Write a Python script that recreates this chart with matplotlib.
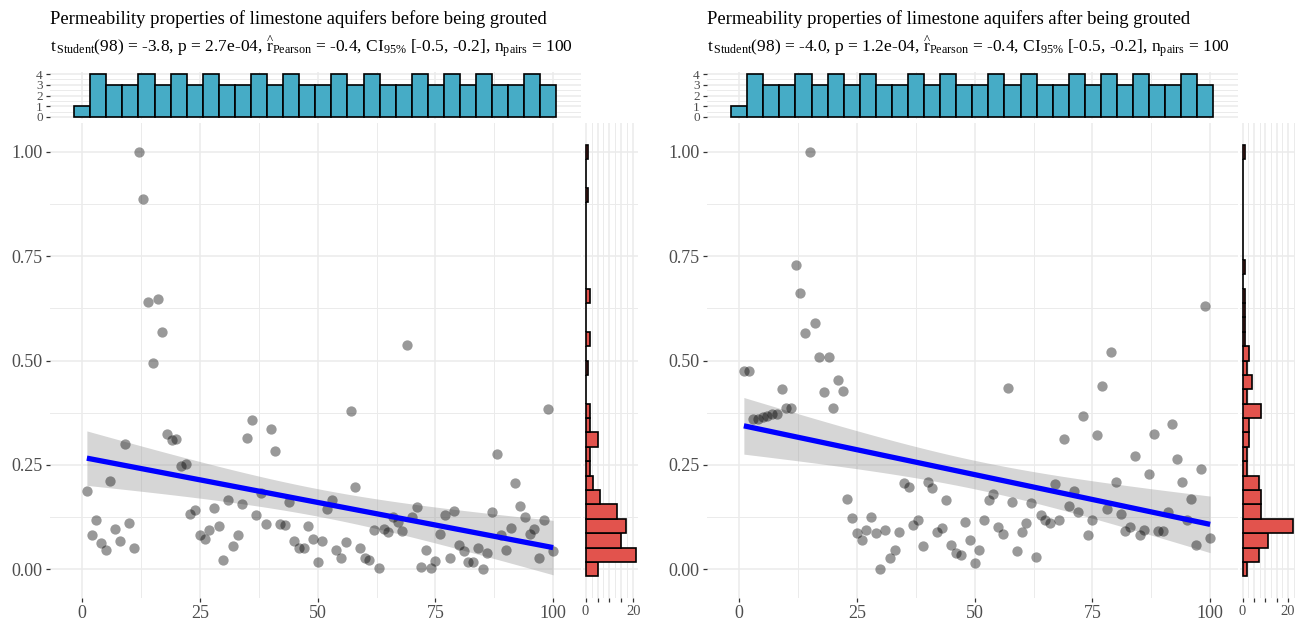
import numpy as np
import matplotlib
matplotlib.use("Agg")
import matplotlib.pyplot as plt
from matplotlib.ticker import FixedLocator, MultipleLocator

plt.rcParams['font.family'] = ['Liberation Serif', 'DejaVu Serif']
plt.rcParams['mathtext.fontset'] = 'custom'
plt.rcParams['mathtext.rm'] = 'Liberation Serif'
plt.rcParams['mathtext.it'] = 'Liberation Serif:italic'
plt.rcParams['mathtext.bf'] = 'Liberation Serif:bold'

# ---------------- data ----------------
obs_id = np.arange(1, 101)

before = [0.188, 0.081, 0.117, 0.063, 0.047, 0.211, 0.097, 0.068, 0.300, 0.111,
          0.051, 1.000, 0.886, 0.640, 0.493, 0.647, 0.568, 0.323, 0.309, 0.312,
          0.248, 0.253, 0.132, 0.141, 0.083, 0.073, 0.095, 0.147, 0.103, 0.022,
          0.165, 0.056, 0.082, 0.157, 0.314, 0.358, 0.131, 0.183, 0.109, 0.337,
          0.283, 0.108, 0.106, 0.161, 0.068, 0.051, 0.050, 0.104, 0.073, 0.017,
          0.067, 0.145, 0.165, 0.047, 0.026, 0.064, 0.380, 0.196, 0.050, 0.028,
          0.023, 0.094, 0.003, 0.097, 0.089, 0.125, 0.113, 0.092, 0.536, 0.124,
          0.149, 0.006, 0.047, 0.003, 0.019, 0.084, 0.131, 0.027, 0.140, 0.057,
          0.044, 0.018, 0.018, 0.050, 0.000, 0.038, 0.138, 0.276, 0.081, 0.047,
          0.099, 0.207, 0.151, 0.126, 0.084, 0.097, 0.026, 0.117, 0.383, 0.043]

after = [0.475, 0.475, 0.361, 0.361, 0.364, 0.368, 0.371, 0.371, 0.432, 0.387,
         0.387, 0.729, 0.662, 0.567, 1.000, 0.590, 0.508, 0.424, 0.508, 0.387,
         0.453, 0.427, 0.169, 0.123, 0.086, 0.070, 0.094, 0.126, 0.086, 0.000,
         0.095, 0.028, 0.047, 0.090, 0.207, 0.196, 0.106, 0.117, 0.055, 0.209,
         0.195, 0.090, 0.098, 0.167, 0.057, 0.039, 0.035, 0.114, 0.070, 0.015,
         0.046, 0.117, 0.166, 0.181, 0.102, 0.084, 0.435, 0.160, 0.043, 0.090,
         0.110, 0.159, 0.030, 0.131, 0.117, 0.111, 0.203, 0.117, 0.313, 0.151,
         0.188, 0.137, 0.367, 0.083, 0.117, 0.322, 0.440, 0.145, 0.520, 0.209,
         0.133, 0.091, 0.102, 0.272, 0.082, 0.095, 0.229, 0.324, 0.092, 0.092,
         0.137, 0.349, 0.265, 0.209, 0.117, 0.169, 0.057, 0.240, 0.631, 0.075]

titles = ["Permeability properties of limestone aquifers before being grouted",
          "Permeability properties of limestone aquifers after being grouted"]
subtitles = [
    r"$\mathrm{t}_{\,\mathrm{Student}}$(98) = -3.8, p = 2.7e-04, "
    r"$\widehat{\mathrm{r}}_{\mathrm{Pearson}}$ = -0.4, CI$_{\mathrm{95\%}}$ [-0.5, -0.2], "
    r"n$_{\mathrm{pairs}}$ = 100",
    r"$\mathrm{t}_{\,\mathrm{Student}}$(98) = -4.0, p = 1.2e-04, "
    r"$\widehat{\mathrm{r}}_{\mathrm{Pearson}}$ = -0.4, CI$_{\mathrm{95\%}}$ [-0.5, -0.2], "
    r"n$_{\mathrm{pairs}}$ = 100",
]
x_ticks = [0, 25, 50, 75, 100]
y_ticks = [0.00, 0.25, 0.50, 0.75, 1.00]
top_ticks = [0, 1, 2, 3, 4]
side_ticks = [0, 5, 10, 15, 20]
side_labels = ["0", "", "", "", "20"]

# ---------------- style ----------------
W, H = 1304, 628
TOP_FILL = "#46ACC6"
SIDE_FILL = "#E2534D"
GRID = "#EBEBEB"
TICKC = "#333333"
LABC = "#4D4D4D"
T975 = 1.984467  # t quantile (0.975, df = 98)

fig = plt.figure(figsize=(W / 100, H / 100), dpi=100)


def px_axes(x0, y0, x1, y1):
    return fig.add_axes([x0 / W, 1 - y1 / H, (x1 - x0) / W, (y1 - y0) / H])


def gg_breaks(v, bins=30):
    lo, hi = float(np.min(v)), float(np.max(v))
    w = (hi - lo) / (bins - 1)
    boundary = w / 2
    shift = np.floor((lo - boundary) / w)
    origin = boundary + shift * w
    return origin + w * np.arange(bins + 1)


def expand(lo, hi, m=0.05):
    d = (hi - lo) * m
    return lo - d, hi + d


def style(ax):
    for s in ax.spines.values():
        s.set_visible(False)
    ax.set_axisbelow(True)
    ax.grid(True, which='major', color=GRID, lw=1.1)
    ax.grid(True, which='minor', color=GRID, lw=0.7)
    ax.tick_params(which='major', color=TICKC, width=0.9, length=3.2,
                   labelcolor=LABC, pad=2)
    ax.tick_params(which='minor', length=0)


def panel(xoff, x, y, title, subtitle):
    x = np.asarray(x, float)
    y = np.asarray(y, float)
    xb = gg_breaks(x)
    yb = gg_breaks(y)
    xlim = expand(min(xb[0], x.min()), max(xb[-1], x.max()))
    ylim = expand(min(yb[0], y.min()), max(yb[-1], y.max()))

    x0 = 50 + xoff
    x1 = x0 + 530.6
    ax = px_axes(x0, 123, x1, 598)
    axt = px_axes(x0, 72, x1, 119)
    axs = px_axes(x1 + 2.5, 123, x1 + 57.5, 598)

    # main scatter
    style(ax)
    ax.set_xlim(xlim)
    ax.set_ylim(ylim)
    ax.xaxis.set_major_locator(FixedLocator(x_ticks))
    ax.xaxis.set_minor_locator(MultipleLocator(12.5))
    ax.yaxis.set_major_locator(FixedLocator(y_ticks))
    ax.yaxis.set_minor_locator(MultipleLocator(0.125))
    ax.set_xticklabels([str(v) for v in x_ticks], fontsize=13)
    ax.set_yticklabels([f"{v:.2f}" for v in y_ticks], fontsize=13)

    # regression with 95% CI
    n = len(x)
    b, a = np.polyfit(x, y, 1)
    resid = y - (a + b * x)
    s = np.sqrt(np.sum(resid ** 2) / (n - 2))
    xm = x.mean()
    sxx = np.sum((x - xm) ** 2)
    xs = np.linspace(x.min(), x.max(), 80)
    fit = a + b * xs
    se = s * np.sqrt(1 / n + (xs - xm) ** 2 / sxx)
    ax.fill_between(xs, fit - T975 * se, fit + T975 * se, color="#999999",
                    alpha=0.4, lw=0, zorder=2)
    ax.scatter(x, y, s=55, color="black", alpha=0.4, lw=0, zorder=3)
    ax.plot(xs, fit, color="blue", lw=3.8, zorder=4, solid_capstyle='butt')

    # top histogram
    style(axt)
    axt.hist(x, bins=xb, color=TOP_FILL, edgecolor="black", lw=1.2, zorder=3)
    axt.set_xlim(xlim)
    axt.set_ylim(-0.2, 4.2)
    axt.xaxis.set_major_locator(FixedLocator(x_ticks))
    axt.xaxis.set_minor_locator(MultipleLocator(12.5))
    axt.yaxis.set_major_locator(FixedLocator(top_ticks))
    axt.yaxis.set_minor_locator(MultipleLocator(0.5))
    axt.set_yticklabels([str(v) for v in top_ticks], fontsize=9.5)
    axt.tick_params(axis='x', length=0, labelbottom=False)

    # side histogram
    style(axs)
    counts, _, _ = axs.hist(y, bins=yb, orientation='horizontal', color=SIDE_FILL,
                            edgecolor="black", lw=1.2, zorder=3)
    axs.set_ylim(ylim)
    axs.set_xlim(expand(0, counts.max()))
    axs.yaxis.set_major_locator(FixedLocator(y_ticks))
    axs.yaxis.set_minor_locator(MultipleLocator(0.125))
    axs.xaxis.set_major_locator(FixedLocator(side_ticks))
    axs.xaxis.set_minor_locator(MultipleLocator(2.5))
    axs.set_xticklabels(side_labels, fontsize=10.5)
    axs.tick_params(axis='y', length=0, labelleft=False)

    fig.text(x0 / W, 1 - 24 / H, title, fontsize=13.4, color="black", va='baseline')
    fig.text(x0 / W, 1 - 52 / H, subtitle, fontsize=12.5, color="black", va='baseline')


panel(0, obs_id, before, titles[0], subtitles[0])
panel(657, obs_id, after, titles[1], subtitles[1])

fig.savefig("out.png", dpi=100)
